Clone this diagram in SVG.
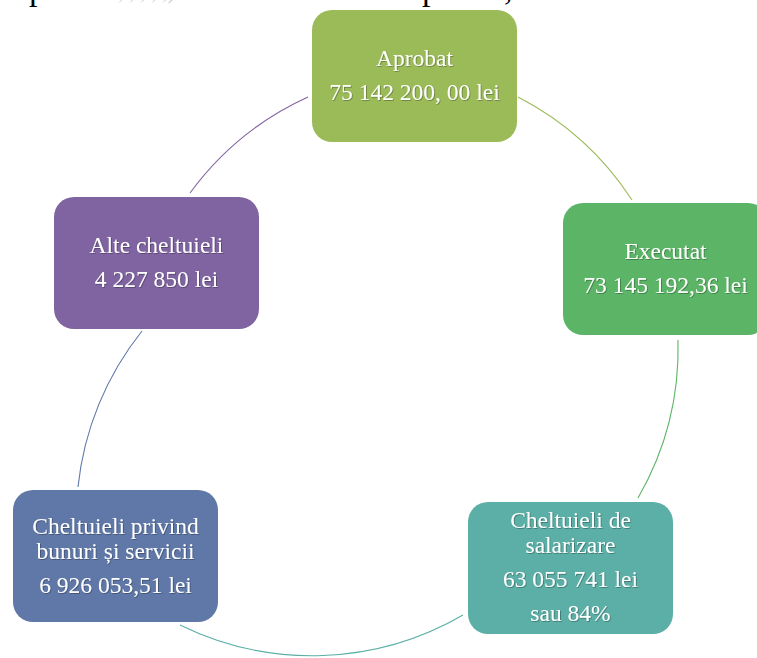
<svg xmlns="http://www.w3.org/2000/svg" width="757" height="658" viewBox="0 0 757 658">
<defs>
<filter id="ts" x="-10%" y="-30%" width="120%" height="160%">
<feDropShadow dx="0.8" dy="0.8" stdDeviation="0.7" flood-color="#000" flood-opacity="0.35"/>
</filter>
<style>
.n{stroke:none}
.t{font-family:"Liberation Serif","Times New Roman",serif;font-size:23.5px;fill:#fff;text-anchor:middle;filter:url(#ts)}
.c{fill:none;stroke-width:1.1}
.top{font-family:"Liberation Serif","Times New Roman",serif;font-size:34px;fill:#000}
</style>
</defs>
<rect width="757" height="658" fill="#fff"/>
<g id="cut-text">
<text class="top" x="29" y="0">p</text>
<text class="top" x="118" y="-1" style="fill:#d0d0d0;font-size:22px">,   ,   ,   ,   ,)</text>
<text class="top" x="422" y="0">p</text>
<text class="top" x="504" y="0">,</text>
</g>
<g id="connectors">
<path class="c" stroke="#9BBB59" d="M518,97 A300,300 0 0 1 632,200"/>
<path class="c" stroke="#5CB567" d="M678,340 A300,300 0 0 1 638,498"/>
<path class="c" stroke="#5BAFA6" d="M463,615 A300,300 0 0 1 180,625"/>
<path class="c" stroke="#5F78A8" d="M78,487 A300,300 0 0 1 142,331"/>
<path class="c" stroke="#8064A2" d="M190,193 A300,300 0 0 1 308,97"/>
</g>
<g id="node-aprobat">
<rect class="n" x="312" y="10" width="205" height="132" rx="20" fill="#9BBB59"/>
<text class="t" x="414.5" y="66">Aprobat</text>
<text class="t" x="414.5" y="100">75 142 200, 00 lei</text>
</g>
<g id="node-executat">
<rect class="n" x="563" y="203" width="205" height="132" rx="20" fill="#5CB567"/>
<text class="t" x="665.5" y="259">Executat</text>
<text class="t" x="665.5" y="293">73 145 192,36 lei</text>
</g>
<g id="node-salarizare">
<rect class="n" x="468" y="502" width="205" height="132" rx="20" fill="#5BAFA6"/>
<text class="t" x="570.5" y="528">Cheltuieli de</text>
<text class="t" x="570.5" y="553">salarizare</text>
<text class="t" x="570.5" y="587">63 055 741 lei</text>
<text class="t" x="570.5" y="621">sau 84%</text>
</g>
<g id="node-bunuri">
<rect class="n" x="13" y="490" width="205" height="132" rx="20" fill="#5F78A8"/>
<text class="t" x="115.5" y="534">Cheltuieli privind</text>
<text class="t" x="115.5" y="559">bunuri și servicii</text>
<text class="t" x="115.5" y="593">6 926 053,51 lei</text>
</g>
<g id="node-alte">
<rect class="n" x="54" y="197" width="205" height="132" rx="20" fill="#8064A2"/>
<text class="t" x="156.5" y="253">Alte cheltuieli</text>
<text class="t" x="156.5" y="287">4 227 850 lei</text>
</g>
</svg>
